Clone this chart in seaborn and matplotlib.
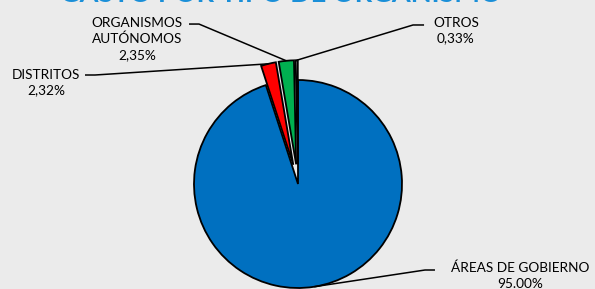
import matplotlib
matplotlib.use("Agg")
import matplotlib.pyplot as plt
from matplotlib.transforms import Bbox
import seaborn as sns
import numpy as np

# Datos del gráfico
categorias = ["ÁREAS DE GOBIERNO", "DISTRITOS", "ORGANISMOS\nAUTÓNOMOS", "OTROS"]
porcentajes = [95.00, 2.32, 2.35, 0.33]
etiquetas_pct = ["95.00%", "2,32%", "2,35%", "0,33%"]
colores = ["#0070C0", "#FF0000", "#00B050", "#FFFFFF"]
separacion = [0, 0.19, 0.19, 0.19]

fondo = "#EBEBEB"
sns.set_theme(style="white", rc={"figure.facecolor": fondo, "axes.facecolor": fondo})
plt.rcParams["font.family"] = ["Lato", "DejaVu Sans"]

# Figura algo más alta; al guardar se recorta la parte de arriba (título cortado)
alto_fig = 3.3
fig = plt.figure(figsize=(5.95, alto_fig), dpi=100)
ax = fig.add_axes([0, 0, 1, 2.89 / alto_fig])
ax.set_facecolor(fondo)

wedges, _ = ax.pie(
    porcentajes,
    colors=colores,
    explode=separacion,
    startangle=90,
    counterclock=False,
    radius=1,
    wedgeprops={"edgecolor": "black", "linewidth": 1.3},
)

# Ejes en coordenadas de datos: centro del pastel en (298, 184) px, radio 104 px
ax.set_xlim(-298 / 104, 297 / 104)
ax.set_ylim(-105 / 104, 184 / 104)
ax.set_aspect("equal")
ax.axis("off")

# Posición de las etiquetas y codo de la línea guía
pos_texto = [(2.135, -0.88), (-2.423, 0.976), (-1.548, 1.394), (1.519, 1.476)]
codo = [((1.317, -0.827), (1.221, -0.827)),
        ((-2.048, 1.048), (-1.952, 1.048)),
        ((-1.048, 1.538), (-0.952, 1.538)),
        ((1.212, 1.529), (1.106, 1.529))]

for w, cat, pct, (tx, ty), (p0, p1) in zip(wedges, categorias, etiquetas_pct, pos_texto, codo):
    ang = np.deg2rad((w.theta1 + w.theta2) / 2)
    cx, cy = w.center
    bx, by = cx + w.r * np.cos(ang), cy + w.r * np.sin(ang)
    ax.plot([p0[0], p1[0], bx], [p0[1], p1[1], by], color="black", lw=1.1,
            solid_capstyle="butt", zorder=5)
    ax.text(tx, ty, f"{cat}\n{pct}", ha="center", va="center", fontsize=9.8,
            linespacing=1.35, color="black")

# Título: sólo asoma la parte de abajo de las letras, como en el original
fig.text(0.472, (289 - 1.5) / (alto_fig * 100), "GASTO POR TIPO DE ORGANISMO",
         ha="center", va="baseline", fontsize=19.5, fontweight="bold", color="#1A8FD8")

plt.savefig("out.png", dpi=100, facecolor=fondo,
            bbox_inches=Bbox.from_bounds(0, 0, 5.95, 2.89))
plt.close()
